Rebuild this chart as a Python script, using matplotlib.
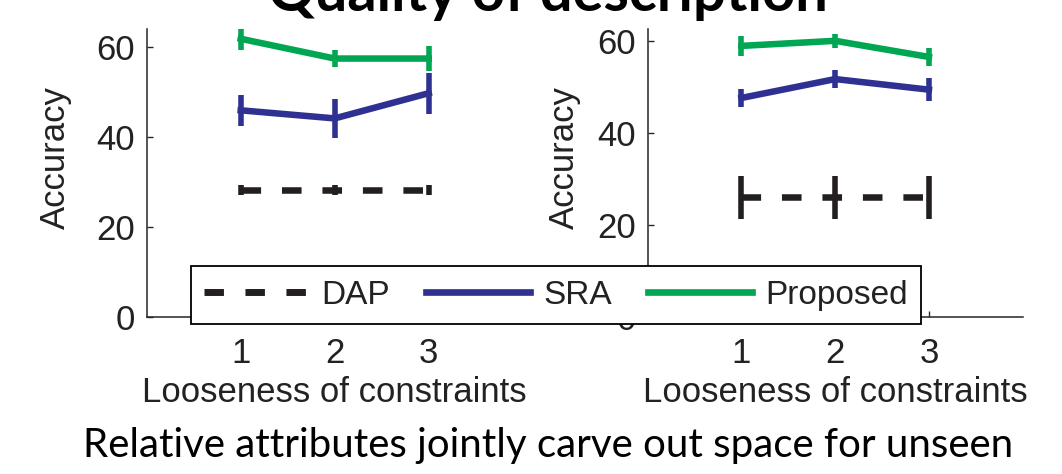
import matplotlib
matplotlib.use("Agg")
import matplotlib.pyplot as plt
from matplotlib.lines import Line2D

# ---------------- data ----------------
looseness = [1, 2, 3]
series_names = ["DAP", "SRA", "Proposed"]

# left panel
left_dap = [28.3, 28.3, 28.3]
left_dap_err = [1.2, 1.2, 1.2]
left_sra = [46.0, 44.2, 49.8]
left_sra_err = [3.4, 4.4, 4.6]
left_prop = [61.9, 57.5, 57.5]
left_prop_err = [2.5, 1.8, 2.7]

# right panel
right_dap = [26.0, 26.0, 26.0]
right_dap_err = [4.6, 4.6, 4.6]
right_sra = [47.6, 51.7, 49.4]
right_sra_err = [2.0, 1.9, 2.5]
right_prop = [58.9, 60.0, 56.5]
right_prop_err = [2.1, 1.5, 2.0]

y_ticks = [0, 20, 40, 60]
x_label = "Looseness of constraints"
y_label = "Accuracy"
title_text = "Quality of description"
caption_text = "Relative attributes jointly carve out space for unseen"

# ---------------- style ----------------
C_DAP = "#231f20"
C_SRA = "#2e3192"
C_PROP = "#00a651"
AX_COL = "#262626"
LW = 4.7
ELW = 4.0
DASH = (0, (3.0, 3.2))

plt.rcParams["font.family"] = ["Liberation Sans", "DejaVu Sans"]

W, H = 1062, 474
fig = plt.figure(figsize=(W / 100, H / 100), dpi=100)

def px_rect(x0, x1, ytop, ybot):
    return [x0 / W, 1 - ybot / H, (x1 - x0) / W, (ybot - ytop) / H]

ax_l = fig.add_axes(px_rect(146.7, 522.7, 29.3, 317.3))
ax_r = fig.add_axes(px_rect(647.7, 1022.7, 29.3, 317.3))

panels = [
    (ax_l, left_dap, left_dap_err, left_sra, left_sra_err, left_prop, left_prop_err, 64.0, -0.199),
    (ax_r, right_dap, right_dap_err, right_sra, right_sra_err, right_prop, right_prop_err, 62.5, -0.178),
]

for ax, dap, dape, sra, srae, prop, prope, ytop, ylab_x in panels:
    ax.errorbar(looseness, dap, yerr=dape, color=C_DAP, lw=LW, linestyle=DASH,
                elinewidth=ELW, capsize=0, dash_capstyle="butt")
    ax.errorbar(looseness, sra, yerr=srae, color=C_SRA, lw=LW, elinewidth=ELW, capsize=0)
    ax.errorbar(looseness, prop, yerr=prope, color=C_PROP, lw=LW, elinewidth=ELW, capsize=0)
    ax.set_xlim(0, 4)
    ax.set_ylim(0, ytop)
    ax.set_xticks(looseness)
    ax.set_yticks(y_ticks)
    for s in ("top", "right"):
        ax.spines[s].set_visible(False)
    for s in ("left", "bottom"):
        ax.spines[s].set_color(AX_COL)
        ax.spines[s].set_linewidth(1.1)
    ax.tick_params(direction="in", length=4, width=1, colors=AX_COL, labelsize=25,
                   labelcolor="#222222")
    ax.tick_params(axis="x", pad=14.5)
    ax.tick_params(axis="y", pad=8.4)
    ax.set_xlabel(x_label, fontsize=25, color="#222222")
    ax.set_ylabel(y_label, fontsize=25, color="#222222")
    ax.xaxis.set_label_coords(0.5, -0.205)
    ax.yaxis.set_label_coords(ylab_x, 0.553)
    ax.set_facecolor("none")

handles = [
    Line2D([], [], color=C_DAP, lw=5.0, linestyle=(0, (2.8, 3.1)), dash_capstyle="butt"),
    Line2D([], [], color=C_SRA, lw=4.8),
    Line2D([], [], color=C_PROP, lw=4.8),
]
leg = fig.legend(handles, series_names, ncol=3, loc="center",
                 bbox_to_anchor=(191 / W, 1 - 327.3 / H, 730 / W, 64 / H),
                 mode="expand", borderaxespad=0, fontsize=24,
                 handlelength=3.1, handletextpad=0.4, columnspacing=0.8,
                 borderpad=0.4, frameon=True, fancybox=False, framealpha=1,
                 edgecolor="black")
leg.get_frame().set_linewidth(1.3)
for t in leg.get_texts():
    t.set_color("#222222")

# title (cut off at the top) and caption
title = fig.text(547.5 / W, 1 - 10.8 / H, title_text, ha="center", va="baseline",
                 fontsize=38, fontweight="bold", family=["Lato", "DejaVu Sans"], color="black")
caption = fig.text(548.5 / W, 1 - 457 / H, caption_text, ha="center", va="baseline",
                   fontsize=22, family=["Lato", "DejaVu Sans"], color="black")

renderer = fig.canvas.get_renderer()
for txt, target in ((title, 561.0), (caption, 927.0)):
    w = txt.get_window_extent(renderer).width
    txt.set_fontsize(txt.get_fontsize() * target / w)

fig.savefig("out.png", dpi=100)
